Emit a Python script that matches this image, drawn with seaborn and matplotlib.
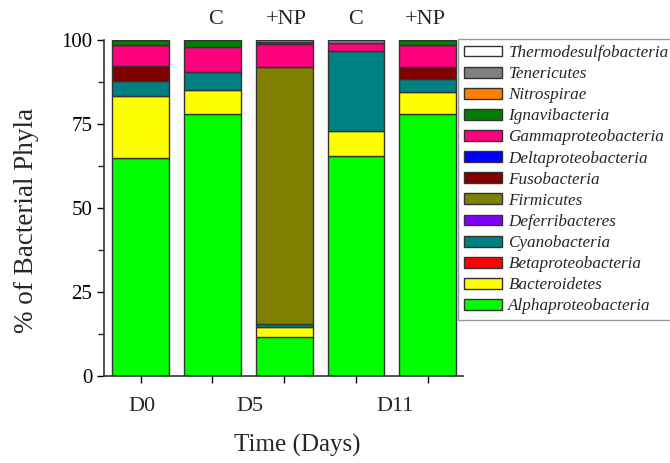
import numpy as np
import pandas as pd
import matplotlib
matplotlib.use("Agg")
import matplotlib.pyplot as plt
import seaborn as sns
from matplotlib.patches import Patch

# ---- data ----
samples = ["D0", "D5 C", "D5 +NP", "D11 C", "D11 +NP"]
phyla = ["Alphaproteobacteria", "Bacteroidetes", "Betaproteobacteria", "Cyanobacteria",
         "Deferribacteres", "Firmicutes", "Fusobacteria", "Deltaproteobacteria",
         "Gammaproteobacteria", "Ignavibacteria", "Nitrospirae", "Tenericutes",
         "Thermodesulfobacteria"]
colors = ["#00FF00", "#FFFF00", "#FF0000", "#008080", "#8000FF", "#808000", "#800000",
          "#0000FF", "#FF0080", "#008000", "#FF8000", "#808080", "#FFFFFF"]

alpha = [65.0, 78.0, 11.5, 65.5, 78.0]
bacteroidetes = [18.2, 7.0, 3.0, 7.5, 6.5]
betaproteo = [0, 0, 0, 0, 0]
cyanobacteria = [4.5, 5.5, 1.0, 23.8, 3.8]
deferribacteres = [0, 0, 0, 0, 0]
firmicutes = [0, 0, 76.5, 0, 0]
fusobacteria = [4.5, 0, 0, 0, 3.8]
deltaproteo = [0, 0, 0, 0, 0]
gammaproteo = [6.3, 7.5, 6.8, 2.2, 6.3]
ignavibacteria = [1.5, 2.0, 0.5, 0, 1.6]
nitrospirae = [0, 0, 0.7, 0, 0]
tenericutes = [0, 0, 0, 1.0, 0]
thermodesulfo = [0, 0, 0, 0, 0]

values = [alpha, bacteroidetes, betaproteo, cyanobacteria, deferribacteres, firmicutes,
          fusobacteria, deltaproteo, gammaproteo, ignavibacteria, nitrospirae,
          tenericutes, thermodesulfo]

day_labels = ["D0", "D5", "D11"]
day_pos = [0.02, 1.52, 3.55]
treat_labels = ["C", "+NP", "C", "+NP"]
treat_pos = [1.05, 2.03, 3.0, 3.97]

rows = []
for ph, vals in zip(phyla, values):
    for i, v in enumerate(vals):
        rows.append({"pos": i, "phylum": ph, "value": v})
df = pd.DataFrame(rows)

sns.set_theme(style="ticks")
plt.rcParams["font.family"] = ["Liberation Serif", "DejaVu Serif"]

fig = plt.figure(figsize=(6.70, 4.63), dpi=100)
ax = fig.add_axes([104/670, 1 - 376/463, (463 - 104)/670, (376 - 40)/463])

palette = dict(zip(phyla, colors))
sns.histplot(data=df, x="pos", weights="value", hue="phylum", hue_order=phyla[::-1],
             multiple="stack", discrete=True, shrink=0.79, palette=palette,
             alpha=1, edgecolor="#333333", linewidth=1.0, legend=False, ax=ax)

# remove zero-height artifacts
for p in list(ax.patches):
    if p.get_height() <= 1e-9:
        p.remove()

ax.set_xlim(-0.51, 4.49)
ax.set_ylim(0, 100)
ax.set_yticks([0, 25, 50, 75, 100])
ax.set_yticks([12.5, 37.5, 62.5, 87.5], minor=True)
ax.set_xticks(range(5))
ax.set_xticklabels([])
ax.tick_params(axis="both", direction="out", length=5, width=1, colors="black", labelsize=15)
ax.tick_params(axis="y", which="minor", length=4, width=1)
for s in ["top", "right"]:
    ax.spines[s].set_visible(False)
for s in ["left", "bottom"]:
    ax.spines[s].set_color("#333333")
    ax.spines[s].set_linewidth(1.2)
ax.set_xlabel("")
ax.set_ylabel("")

trans = matplotlib.transforms.blended_transform_factory(ax.transData, ax.transAxes)
for lab, pos in zip(day_labels, day_pos):
    ax.text(pos, -0.092, lab, transform=trans, ha="center", va="center", fontsize=16)
for lab, pos in zip(treat_labels, treat_pos):
    ax.text(pos, 1.062, lab, transform=trans, ha="center", va="center", fontsize=16)

fig.text(297/670, 1 - 445/463, "Time (Days)", ha="center", va="center", fontsize=18)
fig.text(27/670, 1 - 220/463, "% of Bacterial Phyla", ha="center", va="center",
         rotation=90, fontsize=19.5)

handles = [Patch(facecolor=palette[p], edgecolor="#333333", linewidth=1.0) for p in phyla[::-1]]
leg = fig.legend(handles, phyla[::-1], loc="upper left", bbox_to_anchor=(458/670, 1 - 39/463),
                 prop={"family": ["Liberation Serif"], "style": "italic", "size": 12.3},
                 frameon=True, fancybox=False, edgecolor="#999999", framealpha=1,
                 handlelength=2.25, handleheight=0.6, labelspacing=0.30, handletextpad=0.35,
                 borderpad=0.35, borderaxespad=0)
leg.get_frame().set_linewidth(1.0)

fig.savefig("out.png", dpi=100)
